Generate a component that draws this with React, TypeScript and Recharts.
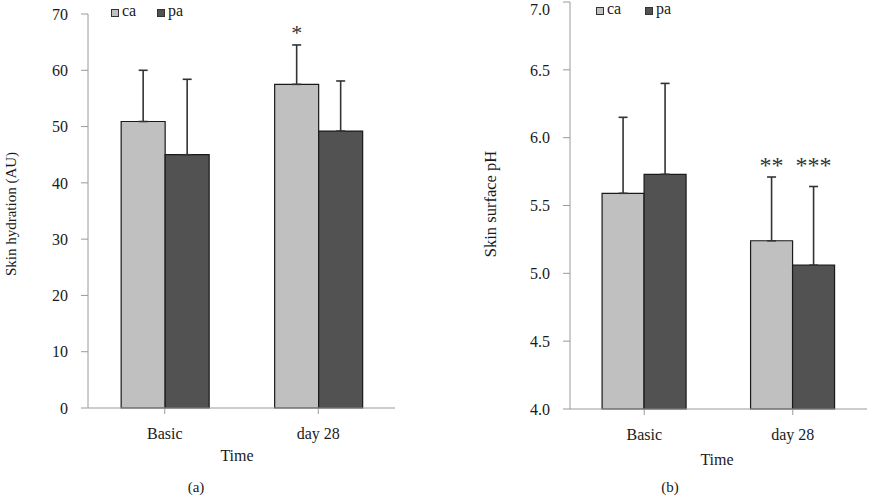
import { Bar, BarChart, ErrorBar, LabelList, XAxis, YAxis } from "recharts";

const FONT = "'Liberation Serif', 'Times New Roman', serif";

const categories = ["Basic", "day 28"];
const seriesNames = ["ca", "pa"];
const seriesColors = ["#c0c0c0", "#525252"];

// (a) skin hydration
const hydrationCa = [50.9, 57.5];
const hydrationCaErr = [9.1, 7.0];
const hydrationPa = [45.0, 49.2];
const hydrationPaErr = [13.4, 8.9];
const hydrationCaStars = ["", "*"];
const hydrationPaStars = ["", ""];
const hydrationStarLevel = 67.3;
const hydrationTicks = [0, 10, 20, 30, 40, 50, 60, 70];

// (b) skin surface pH
const phCa = [5.59, 5.24];
const phCaErr = [0.56, 0.47];
const phPa = [5.73, 5.06];
const phPaErr = [0.67, 0.58];
const phCaStars = ["", "**"];
const phPaStars = ["", "***"];
const phStarLevel = 5.83;
const phTicks = [4.0, 4.5, 5.0, 5.5, 6.0, 6.5, 7.0];

const buildRows = (
  ca: number[],
  caErr: number[],
  pa: number[],
  paErr: number[],
  caStars: string[],
  paStars: string[]
) =>
  categories.map((name, i) => ({
    name,
    ca: ca[i],
    pa: pa[i],
    caErr: [0, caErr[i]],
    paErr: [0, paErr[i]],
    caStar: caStars[i],
    paStar: paStars[i],
  }));

const hydrationRows = buildRows(
  hydrationCa,
  hydrationCaErr,
  hydrationPa,
  hydrationPaErr,
  hydrationCaStars,
  hydrationPaStars
);
const phRows = buildRows(phCa, phCaErr, phPa, phPaErr, phCaStars, phPaStars);

// stars sit at a fixed level, placed with the bar's own scale
const starLabel =
  (values: number[], base: number, level: number, size: number) =>
  (props: any) => {
    const box = props.viewBox ?? props;
    const { value, index } = props;
    if (!value) return null;
    const x = Number(box.x);
    const y = Number(box.y);
    const w = Number(box.width);
    const h = Number(box.height);
    const pxPerUnit = h / (values[index] - base);
    const cy = y - (level - values[index]) * pxPerUnit;
    return (
      <text
        x={x + w / 2}
        y={cy + size * 0.5}
        textAnchor="middle"
        fontFamily={FONT}
        fontSize={size}
        fill="#333"
      >
        {value}
      </text>
    );
  };

const tickStyle = { fontFamily: FONT, fontSize: 16, fill: "#1a1a1a" };
const axisGray = "#9a9a9a";

const abs = (left: number, top: number, extra: any = {}) => ({
  position: "absolute" as const,
  left,
  top,
  fontFamily: FONT,
  whiteSpace: "nowrap" as const,
  lineHeight: 1,
  color: "#1a1a1a",
  ...extra,
});

const LegendItem = ({ x, y, color, label }: any) => (
  <div style={abs(x, y, { display: "flex", alignItems: "flex-end", fontSize: 16 })}>
    <span
      style={{
        display: "inline-block",
        width: 6,
        height: 6,
        background: color,
        border: "1px solid #333",
        marginRight: 3,
        marginBottom: 2,
      }}
    />
    <span>{label}</span>
  </div>
);

export default function App() {
  return (
    <div
      style={{
        position: "absolute",
        left: 0,
        top: 0,
        width: 878,
        height: 498,
        background: "#fff",
        overflow: "hidden",
      }}
    >
      <div style={{ position: "absolute", left: 0, top: 0 }}>
        <BarChart
          width={440}
          height={498}
          data={hydrationRows}
          margin={{ top: 14, right: 45, bottom: 50, left: 28 }}
          barGap={0}
          barCategoryGap="21.6%"
        >
          <XAxis
            dataKey="name"
            height={40}
            stroke={axisGray}
            tickSize={6}
            tickMargin={14}
            tick={tickStyle}
          />
          <YAxis
            width={60}
            domain={[0, 70]}
            ticks={hydrationTicks}
            stroke={axisGray}
            tickSize={7}
            tickMargin={13}
            tick={tickStyle}
          />
          <Bar
            dataKey="ca"
            name={seriesNames[0]}
            fill={seriesColors[0]}
            stroke="#1a1a1a"
            strokeWidth={1.2}
            isAnimationActive={false}
          >
            <ErrorBar dataKey="caErr" width={4.5} stroke="#333" strokeWidth={1.6} />
            <LabelList
              dataKey="caStar"
              content={starLabel(hydrationCa, 0, hydrationStarLevel, 22)}
            />
          </Bar>
          <Bar
            dataKey="pa"
            name={seriesNames[1]}
            fill={seriesColors[1]}
            stroke="#1a1a1a"
            strokeWidth={1.2}
            isAnimationActive={false}
          >
            <ErrorBar dataKey="paErr" width={4.5} stroke="#333" strokeWidth={1.6} />
            <LabelList
              dataKey="paStar"
              content={starLabel(hydrationPa, 0, hydrationStarLevel, 22)}
            />
          </Bar>
        </BarChart>
      </div>

      <div style={{ position: "absolute", left: 440, top: 0 }}>
        <BarChart
          width={438}
          height={498}
          data={phRows}
          margin={{ top: 2, right: 11, bottom: 49, left: 70 }}
          barGap={0}
          barCategoryGap="21.6%"
        >
          <XAxis
            dataKey="name"
            height={40}
            stroke={axisGray}
            tickSize={6}
            tickMargin={14}
            tick={tickStyle}
          />
          <YAxis
            width={60}
            domain={[4, 7]}
            ticks={phTicks}
            tickFormatter={(v: number) => v.toFixed(1)}
            stroke={axisGray}
            tickSize={7}
            tickMargin={13}
            tick={tickStyle}
          />
          <Bar
            dataKey="ca"
            name={seriesNames[0]}
            fill={seriesColors[0]}
            stroke="#1a1a1a"
            strokeWidth={1.2}
            isAnimationActive={false}
          >
            <ErrorBar dataKey="caErr" width={4.5} stroke="#333" strokeWidth={1.6} />
            <LabelList dataKey="caStar" content={starLabel(phCa, 4, phStarLevel, 24)} />
          </Bar>
          <Bar
            dataKey="pa"
            name={seriesNames[1]}
            fill={seriesColors[1]}
            stroke="#1a1a1a"
            strokeWidth={1.2}
            isAnimationActive={false}
          >
            <ErrorBar dataKey="paErr" width={4.5} stroke="#333" strokeWidth={1.6} />
            <LabelList dataKey="paStar" content={starLabel(phPa, 4, phStarLevel, 24)} />
          </Bar>
        </BarChart>
      </div>

      {/* legends */}
      <LegendItem x={111} y={3} color={seriesColors[0]} label={seriesNames[0]} />
      <LegendItem x={157} y={3} color={seriesColors[1]} label={seriesNames[1]} />
      <LegendItem x={596} y={1} color={seriesColors[0]} label={seriesNames[0]} />
      <LegendItem x={645} y={1} color={seriesColors[1]} label={seriesNames[1]} />

      {/* axis titles */}
      <div
        style={abs(11, 214, {
          fontSize: 15,
          transform: "translate(-50%, -50%) rotate(-90deg)",
        })}
      >
        Skin hydration (AU)
      </div>
      <div
        style={abs(491, 204, {
          fontSize: 16.5,
          transform: "translate(-50%, -50%) rotate(-90deg)",
        })}
      >
        Skin surface pH
      </div>
      <div style={abs(237, 456, { fontSize: 16, transform: "translate(-50%, -50%)" })}>
        Time
      </div>
      <div style={abs(717, 460, { fontSize: 16, transform: "translate(-50%, -50%)" })}>
        Time
      </div>
      <div style={abs(196, 487, { fontSize: 15, transform: "translate(-50%, -50%)" })}>
        (a)
      </div>
      <div style={abs(670, 487, { fontSize: 15, transform: "translate(-50%, -50%)" })}>
        (b)
      </div>
    </div>
  );
}
